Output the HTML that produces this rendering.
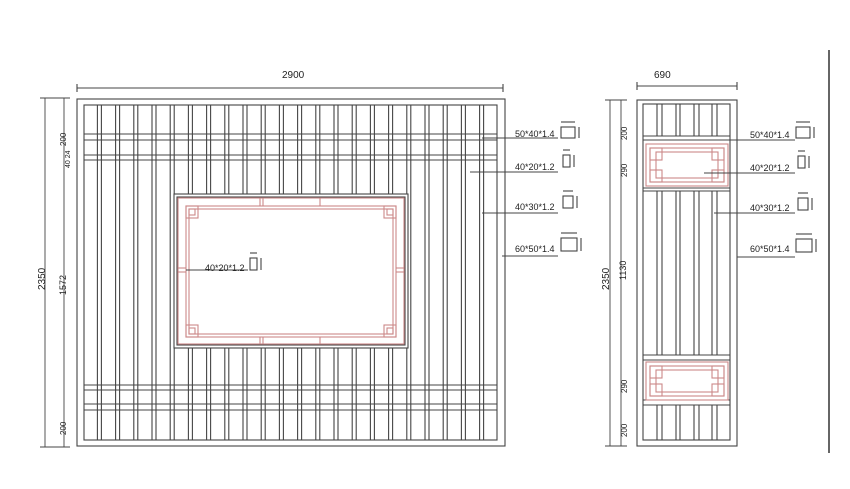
<!DOCTYPE html>
<html><head><meta charset="utf-8"><style>
body{margin:0;background:#fff}
svg{display:block}
text{font-family:"Liberation Sans",sans-serif;fill:#222}
</style></head><body>
<svg id="s" width="850" height="489" viewBox="0 0 850 489" xmlns="http://www.w3.org/2000/svg">
<g stroke="#444" stroke-width="1.1" fill="none" id="g"></g>
<g font-size="9">
<text x="282" y="78" font-size="10">2900</text>
<text x="654" y="78" font-size="10">690</text>
<text transform="translate(45,290) rotate(-90)" font-size="10">2350</text>
<text transform="translate(66,295) rotate(-90)">1572</text>
<text transform="translate(609,290) rotate(-90)" font-size="10">2350</text>
<text transform="translate(626,280) rotate(-90)">1130</text>
<text transform="translate(66,146) rotate(-90)" font-size="8">200</text>
<text transform="translate(70,168) rotate(-90)" font-size="7">40 24</text>
<text transform="translate(66,435) rotate(-90)" font-size="8">200</text>
<text transform="translate(627,140) rotate(-90)" font-size="8">200</text>
<text transform="translate(627,177) rotate(-90)" font-size="8">290</text>
<text transform="translate(627,393) rotate(-90)" font-size="8">290</text>
<text transform="translate(627,437) rotate(-90)" font-size="8">200</text>
<text x="515" y="137">50*40*1.4</text>
<text x="515" y="170">40*20*1.2</text>
<text x="515" y="210">40*30*1.2</text>
<text x="515" y="252">60*50*1.4</text>
<text x="750" y="138">50*40*1.4</text>
<text x="750" y="171">40*20*1.2</text>
<text x="750" y="211">40*30*1.2</text>
<text x="750" y="252">60*50*1.4</text>
<text x="205" y="271">40*20*1.2</text>
</g>
</svg>
<script>
var g=document.getElementById('g'),o='';
function L(x1,y1,x2,y2,c,w){o+='<line x1="'+x1+'" y1="'+y1+'" x2="'+x2+'" y2="'+y2+'"'+(c?' stroke="'+c+'"':'')+(w?' stroke-width="'+w+'"':'')+'/>';}
function R(x,y,w,h,c){o+='<rect x="'+x+'" y="'+y+'" width="'+w+'" height="'+h+'"'+(c?' stroke="'+c+'"':'')+' fill="none"/>';}
R(77,99,428,347);R(84,105,413,335);
[[134,140],[155,160],[385,390],[404,410],[440,440]].forEach(function(r){L(84,r[0],497,r[0]);L(84,r[1],497,r[1]);});
for(var i=0;i<22;i++){var x=97.4+i*18.2;
 [x,x+4].forEach(function(xx){
  if(xx>172&&xx<410){L(xx,105,xx,194);L(xx,348,xx,440);}else L(xx,105,xx,440);
 });}
o+='<rect x="174" y="194" width="234" height="154" fill="#fff" stroke="#444"/>';
R(177,197,228,148);
R(178,198,226,146,'#c88');R(186,206,210,131,'#c88');R(189,209,204,125,'#c88');
[[186,206],[384,206],[186,325],[384,325]].forEach(function(p){R(p[0],p[1],12,12,'#c88');R(p[0]+3,p[1]+3,6,6,'#c88');});
[[260,198,260,206],[263,198,263,206],[320,198,320,206],[260,337,260,344],[263,337,263,344],[320,337,320,344]].forEach(function(a){L(a[0],a[1],a[2],a[3],'#c88');});
[[178,268,186,268],[178,272,186,272],[396,268,404,268],[396,272,404,272]].forEach(function(a){L(a[0],a[1],a[2],a[3],'#c88');});
L(77,88,503,88,'#444');L(77,84,77,92,'#444');L(503,84,503,92,'#444');
L(45,98,45,447,'#666');L(64,98,64,447,'#666');L(40,98,70,98,'#444');L(40,447,70,447,'#444');
L(482,138,558,138,'#444');L(470,172,558,172,'#444');L(482,213,558,213,'#444');L(502,256,558,256,'#444');
L(186,270,248,270,'#444');
function ic(x,y,w,h){R(x,y,w,h,'#444');L(x,y-5,x+w,y-5,'#444');L(x+w+4,y,x+w+4,y+h,'#444');}
ic(561,127,14,11);ic(563,155,7,12);ic(563,196,10,12);ic(561,238,16,13);
ic(796,127,14,11);ic(798,156,7,12);ic(798,198,10,12);ic(796,239,16,13);
ic(250,258,7,12);
R(637,100,100,346);R(643,104,87,336);
[[136,140],[188,191],[355,360],[400,405],[440,440]].forEach(function(r){L(643,r[0],730,r[0]);L(643,r[1],730,r[1]);});
[657,662,676,680,694,699,712,717].forEach(function(x){L(x,104,x,136);L(x,191,x,355);L(x,405,x,440);});
function rb(y1,y2){R(646,y1,82,y2-y1,'#c88');R(650,y1+4,74,y2-y1-8,'#c88');R(656,y1+8,62,y2-y1-16,'#c88');
 [[650,y1+4],[712,y1+4],[650,y2-16],[712,y2-16]].forEach(function(p){R(p[0],p[1],12,12,'#c88');});}
rb(144,186);rb(362,400);
L(637,86,737,86,'#444');L(637,82,637,90,'#444');L(737,82,737,90,'#444');
L(610,100,610,446,'#666');L(621,100,621,446,'#666');L(605,446,627,446,'#444');L(605,100,627,100,'#444');
L(714,140,795,140,'#444');L(704,173,795,173,'#444');L(714,213,795,213,'#444');L(737,257,795,257,'#444');
L(829,50,829,453,'#333',1.5);
g.innerHTML=o;
</script>
</body></html>
